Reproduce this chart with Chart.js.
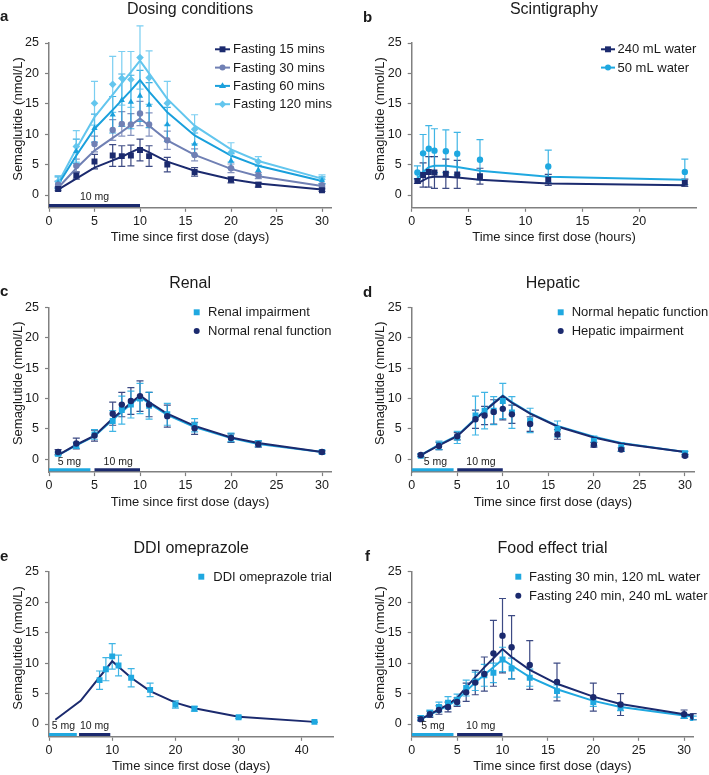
<!DOCTYPE html>
<html><head><meta charset="utf-8">
<script src="https://cdn.jsdelivr.net/npm/chart.js@4.4.0/dist/chart.umd.min.js"></script>
<style>
html,body{margin:0;padding:0;background:#fff;}
#wrap{position:relative;width:709px;height:775px;overflow:hidden;}
canvas{position:absolute;}
</style></head><body><div id="wrap"></div>
<script>
// ---------- DATA ----------
// Panel a: dosing conditions (days)
const daysA = [1,3,5,7,8,9,10,11,13,16,20,23,30];
const f15Obs = [1.0,3.2,5.5,6.5,6.4,6.5,7.4,6.4,5.0,3.8,2.5,1.7,0.8];
const f15Err = [0.3,0.6,1.2,1.8,1.7,1.7,1.8,1.7,1.2,0.7,0.5,0.4,0.2];
const f15Model = [0.9,2.7,4.5,5.7,6.3,7.0,7.7,7.0,5.5,4.0,2.6,1.9,0.9];
const f30Obs = [1.7,4.8,8.4,10.7,11.7,11.6,13.4,11.6,9.0,6.6,4.4,3.2,1.6];
const f30Err = [0.6,1.1,1.3,1.7,2.0,1.8,2.0,1.9,1.5,1.0,0.7,0.5,0.3];
const f30Model = [1.2,4.4,7.3,9.4,10.4,11.5,12.6,11.4,9.0,6.6,4.3,3.1,1.5];
const f60Obs = [2.0,7.2,11.0,13.2,15.6,15.3,16.3,14.8,11.6,8.4,5.6,4.1,2.4];
const f60Err = [1.0,2.0,2.3,3.0,4.3,4.4,4.2,3.7,2.8,1.8,1.2,0.8,0.6];
const f60Model = [1.7,6.5,10.9,14.0,15.6,17.2,18.9,17.0,13.6,9.8,6.5,4.8,2.3];
const f120Obs = [2.2,8.0,15.1,18.2,19.2,19.0,22.6,19.3,15.1,10.8,7.0,5.5,2.6];
const f120Err = [1.0,2.6,3.6,4.6,4.4,4.6,5.2,4.4,3.6,2.4,1.6,0.8,0.7];
const f120Model = [2.0,7.6,12.8,16.5,18.4,20.2,22.1,20.0,15.8,11.4,7.5,5.6,2.7];
const doseA = {start:[0], end:[10], label:['10 mg'], labelAt:[5]};

// Panel b: scintigraphy (hours)
const hoursB = [0.5,1,1.5,2,3,4,6,12,24];
const w240Obs = [2.3,3.3,3.8,3.7,3.5,3.4,3.1,2.5,2.0];
const w240Err = [0.4,2.0,2.5,2.6,2.4,2.3,1.3,0.9,0.6];
const w240Model = [1.9,2.4,2.9,3.0,3.0,2.9,2.5,1.9,1.6];
const w50Obs = [3.7,6.85,7.6,7.3,7.2,6.8,5.8,4.7,3.8];
const w50Err = [1.1,3.1,3.8,3.6,3.5,3.5,3.3,2.7,2.1];
const w50Model = [2.7,3.8,4.6,4.8,4.8,4.6,4.0,3.0,2.5];

// Panel c: renal
const daysC = [1,3,5,7,8,9,10,11,13,16,20,23,30];
const renalImpObs = [0.9,2.3,4.1,6.3,8.1,9.0,10.0,8.8,7.4,5.6,3.6,2.6,1.2];
const renalImpErr = [0.3,0.5,0.8,1.7,2.3,2.2,2.5,2.2,1.8,1.1,0.7,0.5,0.3];
const renalImpModel = [0.7,2.3,3.8,6.5,7.8,9.1,10.3,9.2,7.3,5.3,3.5,2.5,1.2];
const renalNormObs = [1.2,2.6,3.9,7.5,9.0,9.6,10.4,9.0,7.1,5.1,3.5,2.5,1.2];
const renalNormErr = [0.4,0.9,0.9,1.9,2.0,2.2,2.5,2.0,1.8,1.0,0.7,0.5,0.2];
const renalNormModel = [0.7,2.4,3.9,6.7,8.0,9.3,10.5,9.4,7.5,5.5,3.6,2.7,1.2];
const doseC = {start:[0,5], end:[4.55,10], label:['5 mg','10 mg'], labelAt:[2.25,7.6]};

// Panel d: hepatic
const daysD = [1,3,5,7,8,9,10,11,13,16,20,23,30];
const hepNormObs = [0.6,2.3,3.6,7.2,8.0,8.0,9.6,7.7,6.4,5.0,3.0,2.0,1.0];
const hepNormErr = [0.2,0.7,1.0,3.2,3.0,2.3,2.9,2.6,2.0,1.3,0.8,0.7,0.3];
const hepNormModel = [0.7,2.4,3.9,6.7,8.0,9.3,10.5,9.4,7.6,5.5,3.7,2.7,1.2];
const hepImpObs = [0.7,2.2,3.8,6.6,7.2,7.8,8.3,7.4,5.8,4.1,2.4,1.6,0.6];
const hepImpErr = [0.2,0.6,0.6,1.5,1.5,2.0,1.8,1.5,1.2,0.8,0.4,0.3,0.2];
const hepImpModel = [0.7,2.3,3.8,6.6,7.9,9.2,10.4,9.3,7.5,5.4,3.6,2.6,1.2];
const doseD = {start:[0,5], end:[4.6,10], label:['5 mg','10 mg'], labelAt:[2.6,7.6]};

// Panel e: DDI omeprazole
const daysEObs = [8,9,10,11,13,16,20,23,30,42];
const ddiObs = [7.2,9.0,11.1,9.6,7.6,5.6,3.2,2.5,1.1,0.35];
const ddiErr = [1.5,1.9,2.1,1.7,1.5,1.1,0.6,0.4,0.2,0.1];
const daysEModel = [1,5,10,11,13,16,20,23,30,42];
const ddiModel = [0.7,3.8,10.3,9.4,7.6,5.4,3.5,2.6,1.2,0.35];
const doseE = {start:[0,4.75], end:[4.4,9.7], label:['5 mg','10 mg'], labelAt:[2.3,7.2]};

// Panel f: food effect
const daysF = [1,2,3,4,5,6,7,8,9,10,11,13,16,20,23,30,31];
const f30w120Obs = [1.0,1.8,2.8,3.5,4.0,5.9,7.0,8.0,8.4,10.6,9.1,7.6,5.4,3.6,2.7,1.3,1.0];
const f30w120Err = [0.4,0.5,0.8,1.0,0.9,1.3,1.5,1.8,1.6,2.0,1.7,1.4,1.0,0.7,0.5,0.3,0.3];
const f30w120Model = [0.8,1.5,2.3,3.0,4.0,5.4,6.8,8.1,9.3,10.6,9.6,7.7,5.7,3.8,2.8,1.4,1.2];
const f240w240Obs = [0.8,1.6,2.3,2.8,3.6,5.2,6.8,8.2,11.6,14.5,12.6,9.7,6.9,4.4,3.2,1.6,1.2];
const f240w240Err = [0.3,0.5,0.7,0.8,0.7,1.5,2.0,2.8,5.4,6.1,5.2,4.0,3.1,2.3,1.8,0.7,0.5];
const f240w240Model = [0.8,1.6,2.4,3.2,4.3,6.0,7.7,9.3,10.8,12.3,11.0,8.9,6.6,4.5,3.3,1.6,1.4];
const doseF = {start:[0,5], end:[4.6,10], label:['5 mg','10 mg'], labelAt:[2.35,7.6]};

// Tick labels
const yTicks = [0,5,10,15,20,25];
const xTicks30 = [0,5,10,15,20,25,30];
const xTicksHours = [0,5,10,15,20];
const xTicks40 = [0,10,20,30,40];

// ---------- STYLE ----------
const NAVY='#1b2a6e', GREYBLUE='#7080b4', MID='#1aa0dc', LIGHT='#63c6ee', SKY='#1fa8e0';
const FONT='"Liberation Sans", Arial, Helvetica, sans-serif';
const TXT='#1a1a1a', AXIS='#808080';
const DOSE_Y = -1.72, LABEL_Y = -0.4;

function pts(xs, ys){ return xs.map((x,i)=>({x:x, y:ys[i]})); }
function obs(label, xs, ys, errs, color, style, radius){
  return {label, data: pts(xs,ys), errors: errs, errColor: color, showLine:false,
    pointStyle: style, pointRadius: radius, pointHoverRadius: radius,
    pointBackgroundColor: color, pointBorderColor: color, pointBorderWidth: 0,
    borderColor: color, backgroundColor: color, order: 0};
}
function model(xs, ys, color, order){
  return {data: pts(xs,ys), showLine:true, borderColor: color, borderWidth: 2,
    pointRadius: 0, pointHoverRadius: 0, fill:false, tension:0, order: order || 1};
}
function doses(d, colors){
  return d.start.map((s,i)=>({data:[{x:s,y:DOSE_Y},{x:d.end[i],y:DOSE_Y}], showLine:true,
    borderColor: colors[i], borderWidth: 3, pointRadius:0, pointHoverRadius:0, borderCapStyle:'butt', order: 3}));
}

function drawMarker(ctx, style, x, y, r, color){
  ctx.save(); ctx.fillStyle = color; ctx.beginPath();
  if (style==='rect'){ const s = r*Math.SQRT1_2; ctx.rect(x-s,y-s,2*s,2*s); }
  else if (style==='circle'){ ctx.arc(x,y,r,0,Math.PI*2); }
  else if (style==='triangle'){ ctx.moveTo(x, y-r); ctx.lineTo(x+r*0.866*1.15, y+r*0.6); ctx.lineTo(x-r*0.866*1.15, y+r*0.6); ctx.closePath(); }
  else if (style==='rectRot'){ ctx.moveTo(x,y-r); ctx.lineTo(x+r,y); ctx.lineTo(x,y+r); ctx.lineTo(x-r,y); ctx.closePath(); }
  ctx.fill(); ctx.restore();
}

function deco(p){
  return {
    id: 'deco'+p.letter,
    beforeDatasetsDraw(chart){
      const ctx = chart.ctx, xs = chart.scales.x, ys = chart.scales.y;
      chart.data.datasets.forEach(ds=>{
        if (!ds.errors) return;
        ctx.save(); ctx.strokeStyle = ds.errColor; ctx.lineWidth = 1.2; ctx.globalAlpha = 0.85;
        ds.data.forEach((pt,j)=>{
          const e = ds.errors[j]; const x = xs.getPixelForValue(pt.x);
          const y1 = ys.getPixelForValue(pt.y + e), y2 = ys.getPixelForValue(pt.y - e);
          ctx.beginPath();
          ctx.moveTo(x, y1); ctx.lineTo(x, y2);
          ctx.moveTo(x-3.5, y1); ctx.lineTo(x+3.5, y1);
          ctx.moveTo(x-3.5, y2); ctx.lineTo(x+3.5, y2);
          ctx.stroke();
        });
        ctx.restore();
      });
    },
    afterDraw(chart){
      const ctx = chart.ctx, xs = chart.scales.x, ys = chart.scales.y, ca = chart.chartArea;
      const ox = p.canvas[0], oy = p.canvas[1];
      ctx.save();
      ctx.fillStyle = TXT;
      // title
      ctx.font = '16px '+FONT; ctx.textAlign='center'; ctx.textBaseline='middle';
      ctx.fillText(p.title, (ca.left+ca.right)/2, p.titleY - oy);
      // letter
      ctx.font = 'bold 15px '+FONT; ctx.textAlign='left';
      ctx.fillText(p.letter, p.letterPos[0]-ox, p.letterPos[1]-oy);
      // axis titles
      ctx.font = '13px '+FONT; ctx.textAlign='center';
      ctx.fillText(p.xTitle, (ca.left+ca.right)/2, ca.bottom + 30);
      ctx.save();
      ctx.translate(ca.left - 31, ys.getPixelForValue(12.5));
      ctx.rotate(-Math.PI/2);
      ctx.fillText('Semaglutide (nmol/L)', 0, 0);
      ctx.restore();
      // dose labels
      if (p.dose){
        ctx.font = '10.5px '+FONT; ctx.textAlign='center'; ctx.textBaseline='middle';
        p.dose.label.forEach((t,i)=>{
          ctx.fillText(t, xs.getPixelForValue(p.dose.labelAt[i]), ys.getPixelForValue(LABEL_Y));
        });
      }
      // legend
      const L = p.legend;
      ctx.font = '13px '+FONT; ctx.textAlign='left'; ctx.textBaseline='middle';
      L.items.forEach((it,k)=>{
        const yy = L.y - oy + k*L.dy;
        if (L.line){
          ctx.save(); ctx.strokeStyle = it.color; ctx.lineWidth = 2;
          ctx.beginPath(); ctx.moveTo(L.x-ox, yy); ctx.lineTo(L.x-ox+L.w, yy); ctx.stroke(); ctx.restore();
          drawMarker(ctx, it.style, L.x-ox+L.w/2, yy, it.r, it.color);
        } else {
          drawMarker(ctx, it.style, L.x-ox, yy, it.r, it.color);
        }
        ctx.fillStyle = TXT;
        ctx.fillText(it.text, L.tx-ox, yy+0.5);
      });
      ctx.restore();
    }
  };
}

const panels = [
  {letter:'a', canvas:[0,0,355,258], ca:{l:49,t:43,r:331.1,b:207.8}, xMax:31, xTicks:xTicks30,
   title:'Dosing conditions', titleY:10, letterPos:[0,17], xTitle:'Time since first dose (days)',
   dose: doseA, doseColors:[NAVY],
   legend:{x:215, y:49.3, dy:18.3, w:15, tx:233, line:true, items:[
     {text:'Fasting 15 mins', color:NAVY, style:'rect', r:4.2},
     {text:'Fasting 30 mins', color:GREYBLUE, style:'circle', r:3},
     {text:'Fasting 60 mins', color:MID, style:'triangle', r:3.6},
     {text:'Fasting 120 mins', color:LIGHT, style:'rectRot', r:3.8}]},
   datasets:[
     obs('Fasting 15 mins', daysA, f15Obs, f15Err, NAVY, 'rect', 4.2),
     obs('Fasting 30 mins', daysA, f30Obs, f30Err, GREYBLUE, 'circle', 3.2),
     obs('Fasting 60 mins', daysA, f60Obs, f60Err, MID, 'triangle', 3.6),
     obs('Fasting 120 mins', daysA, f120Obs, f120Err, LIGHT, 'rectRot', 3.8),
     model(daysA, f15Model, NAVY), model(daysA, f30Model, GREYBLUE),
     model(daysA, f60Model, MID), model(daysA, f120Model, LIGHT)]},
  {letter:'b', canvas:[355,0,354,258], ca:{l:411.7,t:43,r:696.2,b:207.8}, xMax:25, xTicks:xTicksHours,
   title:'Scintigraphy', titleY:10, letterPos:[363,18], xTitle:'Time since first dose (hours)',
   dose: null,
   legend:{x:601, y:49.3, dy:18.3, w:14, tx:617.5, line:true, items:[
     {text:'240 mL water', color:NAVY, style:'rect', r:4.2},
     {text:'50 mL water', color:SKY, style:'circle', r:3}]},
   datasets:[
     obs('240 mL water', hoursB, w240Obs, w240Err, NAVY, 'rect', 4.2),
     obs('50 mL water', hoursB, w50Obs, w50Err, SKY, 'circle', 3.2),
     model(hoursB, w240Model, NAVY), model(hoursB, w50Model, SKY)]},
  {letter:'c', canvas:[0,258,355,257], ca:{l:49,t:307.3,r:331.1,b:472.1}, xMax:31, xTicks:xTicks30,
   title:'Renal', titleY:283.3, letterPos:[0,292.3], xTitle:'Time since first dose (days)',
   dose: doseC, doseColors:[SKY, NAVY],
   legend:{x:196.7, y:312.3, dy:18.7, tx:208, line:false, items:[
     {text:'Renal impairment', color:SKY, style:'rect', r:4.2},
     {text:'Normal renal function', color:NAVY, style:'circle', r:3}]},
   datasets:[
     obs('Normal renal function', daysC, renalNormObs, renalNormErr, NAVY, 'circle', 3.2),
     obs('Renal impairment', daysC, renalImpObs, renalImpErr, SKY, 'rect', 4.2),
     model(daysC, renalNormModel, NAVY, 1), model(daysC, renalImpModel, SKY, 1.5)]},
  {letter:'d', canvas:[355,258,354,257], ca:{l:411.7,t:307.3,r:694.1,b:472.1}, xMax:31, xTicks:xTicks30,
   title:'Hepatic', titleY:283.3, letterPos:[363,293], xTitle:'Time since first dose (days)',
   dose: doseD, doseColors:[SKY, NAVY],
   legend:{x:560.7, y:312.3, dy:18.7, tx:571.7, line:false, items:[
     {text:'Normal hepatic function', color:SKY, style:'rect', r:4.2},
     {text:'Hepatic impairment', color:NAVY, style:'circle', r:3}]},
   datasets:[
     obs('Hepatic impairment', daysD, hepImpObs, hepImpErr, NAVY, 'circle', 3.2),
     obs('Normal hepatic function', daysD, hepNormObs, hepNormErr, SKY, 'rect', 4.2),
     model(daysD, hepImpModel, NAVY, 1), model(daysD, hepNormModel, SKY, 1.5)]},
  {letter:'e', canvas:[0,515,355,260], ca:{l:49,t:571.7,r:333.4,b:736.8}, xMax:45, xTicks:xTicks40,
   title:'DDI omeprazole', titleY:548.3, letterPos:[0,557.3], xTitle:'Time since first dose (days)',
   dose: doseE, doseColors:[SKY, NAVY],
   legend:{x:201.3, y:576.7, dy:18.7, tx:213.3, line:false, items:[
     {text:'DDI omeprazole trial', color:SKY, style:'rect', r:4.2}]},
   datasets:[
     obs('DDI omeprazole trial', daysEObs, ddiObs, ddiErr, SKY, 'rect', 4.2),
     model(daysEModel, ddiModel, NAVY)]},
  {letter:'f', canvas:[355,515,354,260], ca:{l:411.7,t:571.7,r:693.2,b:736.8}, xMax:31, xTicks:xTicks30,
   title:'Food effect trial', titleY:548.3, letterPos:[365,557.3], xTitle:'Time since first dose (days)',
   dose: doseF, doseColors:[SKY, NAVY],
   legend:{x:518.3, y:576.7, dy:19, tx:529, line:false, items:[
     {text:'Fasting 30 min, 120 mL water', color:SKY, style:'rect', r:4.2},
     {text:'Fasting 240 min, 240 mL water', color:NAVY, style:'circle', r:3}]},
   datasets:[
     obs('Fasting 240 min, 240 mL water', daysF, f240w240Obs, f240w240Err, NAVY, 'circle', 3.2),
     obs('Fasting 30 min, 120 mL water', daysF, f30w120Obs, f30w120Err, SKY, 'rect', 4.2),
     model(daysF, f240w240Model, NAVY, 1), model(daysF, f30w120Model, SKY, 1.5)]}
];

const wrap = document.getElementById('wrap');
panels.forEach(p=>{
  const [cx, cy, cw, chh] = p.canvas;
  const cv = document.createElement('canvas');
  cv.width = cw; cv.height = chh;
  cv.style.left = cx+'px'; cv.style.top = cy+'px';
  cv.style.width = cw+'px'; cv.style.height = chh+'px';
  wrap.appendChild(cv);
  const yW = p.ca.l - cx, xH = (cy + chh) - p.ca.b;
  const ds = p.datasets.concat(p.dose ? doses(p.dose, p.doseColors) : []);
  new Chart(cv, {
    type: 'line',
    data: { datasets: ds },
    options: {
      responsive: false, animation: false, devicePixelRatio: 1,
      layout: { padding: { left: 0, top: p.ca.t - cy, right: (cx + cw) - p.ca.r, bottom: 0 } },
      plugins: { legend: { display: false }, tooltip: { enabled: false }, title: { display: false } },
      events: [],
      scales: {
        x: {
          type: 'linear', min: 0, max: p.xMax,
          afterBuildTicks: s => { s.ticks = p.xTicks.map(v => ({value: v})); },
          afterFit: s => { s.height = xH; },
          grid: { drawOnChartArea: false, drawTicks: true, tickLength: 4, tickColor: AXIS, tickWidth: 1.2 },
          border: { display: true, color: AXIS, width: 1.5 },
          ticks: { font: { family: FONT, size: 12.5 }, color: TXT, padding: 2, maxRotation: 0, autoSkip: false }
        },
        y: {
          type: 'linear', min: -2.1, max: 25,
          afterBuildTicks: s => { s.ticks = yTicks.map(v => ({value: v})); },
          afterFit: s => { s.width = yW; },
          grid: { drawOnChartArea: false, drawTicks: true, tickLength: 4, tickColor: AXIS, tickWidth: 1.2 },
          border: { display: true, color: AXIS, width: 1.5 },
          ticks: { font: { family: FONT, size: 12.5 }, color: TXT, padding: 6, autoSkip: false }
        }
      }
    },
    plugins: [deco(p)]
  });
});
</script></body></html>
